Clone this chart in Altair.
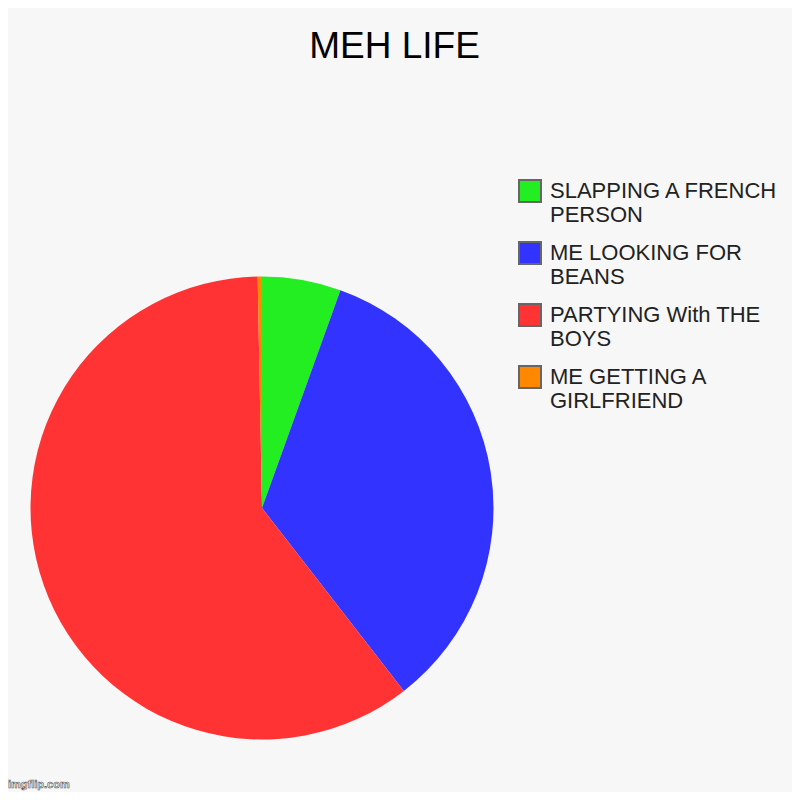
import altair as alt
import pandas as pd

categories = ["SLAPPING A FRENCH PERSON", "ME LOOKING FOR BEANS",
              "PARTYING With THE BOYS", "ME GETTING A GIRLFRIEND"]
values = [5.5, 34.0, 60.2, 0.3]
colors = ["#22EE22", "#3333FF", "#FF3333", "#FF8800"]
label_lines = [["SLAPPING A FRENCH", "PERSON"], ["ME LOOKING FOR", "BEANS"],
               ["PARTYING With THE", "BOYS"], ["ME GETTING A", "GIRLFRIEND"]]
title_text = "MEH LIFE"
watermark = ["imgflip.com"]

df = pd.DataFrame({"category": categories, "value": values, "order": list(range(len(categories)))})

expr = ""
for c, lines in zip(categories, label_lines):
    expr += f"datum.label == '{c}' ? {lines} : "
expr += "datum.label"

W, H = 784, 724
FONT = "Liberation Sans"

pie = alt.Chart(df).mark_arc(radius=231.5, strokeWidth=0).encode(
    theta=alt.Theta("value:Q", stack=True),
    color=alt.Color(
        "category:N",
        scale=alt.Scale(domain=categories, range=colors),
        sort=categories,
        legend=alt.Legend(
            title=None, orient="none", legendX=510, legendY=111,
            symbolType="square", symbolSize=484, symbolStrokeColor="#666666",
            symbolStrokeWidth=2, symbolOffset=0, padding=0,
            labelFont=FONT, labelFontSize=22, labelColor="#222222",
            labelExpr=expr, labelLimit=0, labelOffset=8, rowPadding=12,
        ),
    ),
    order=alt.Order("order:Q"),
    x=alt.value(254), y=alt.value(440),
)

wm = alt.Chart(pd.DataFrame({"t": watermark})).mark_text(
    font=FONT, fontSize=11, fontWeight="bold", fill="#ffffff", stroke="#555555",
    strokeWidth=0.6, align="left", baseline="alphabetic",
).encode(text="t:N", x=alt.value(0), y=alt.value(H - 4))

chart = alt.layer(pie, wm).properties(
    width=W, height=H,
    title=alt.TitleParams(title_text, font=FONT, fontSize=37, fontWeight="normal",
                          color="#000000", anchor="middle", dx=-5.5, offset=2),
    background="#F7F7F7",
    padding={"left": 0, "top": 60, "right": 0, "bottom": 0},
    autosize="none",
).configure_view(stroke=None)

chart.save("out.html", embed_options={"renderer": "svg", "actions": False})
